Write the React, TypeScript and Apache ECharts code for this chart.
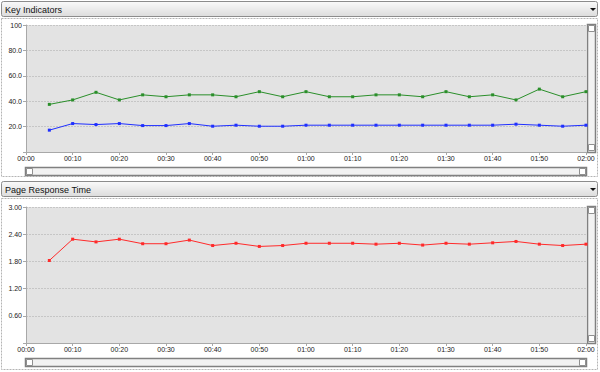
import React, { useEffect, useRef } from "react";
import * as echarts from "echarts";

// Time stamps (every 5 minutes)
const times = [
  "00:05", "00:10", "00:15", "00:20", "00:25", "00:30", "00:35", "00:40",
  "00:45", "00:50", "00:55", "01:00", "01:05", "01:10", "01:15", "01:20",
  "01:25", "01:30", "01:35", "01:40", "01:45", "01:50", "01:55", "02:00",
];

// Key Indicators
const greenSeries = [
  37.5, 41, 47, 41, 45, 43.5, 45, 45, 43.5, 47.5, 43.5, 47.5,
  43.5, 43.5, 45, 45, 43.5, 47.5, 43.5, 45, 41, 49.5, 43.5, 47.5,
];
const blueSeries = [
  17.2, 22.4, 21.6, 22.4, 20.8, 20.8, 22.4, 20.3, 21.1, 20.3, 20.3, 21.1,
  21.1, 21.1, 21.1, 21.1, 21.1, 21.1, 21.1, 21.1, 21.9, 21.1, 20.3, 21.1,
];

// Page Response Time
const redSeries = [
  1.82, 2.29, 2.23, 2.29, 2.19, 2.19, 2.27, 2.15, 2.2, 2.13, 2.15, 2.2,
  2.2, 2.2, 2.18, 2.2, 2.16, 2.2, 2.18, 2.21, 2.24, 2.18, 2.15, 2.18,
];

const panelTitles = ["Key Indicators", "Page Response Time"];

const toMin = (t: string) => {
  const [h, m] = t.split(":").map(Number);
  return h * 60 + m;
};
const fmtTime = (v: number) => {
  const h = Math.floor(v / 60);
  const m = v % 60;
  return String(h).padStart(2, "0") + ":" + String(m).padStart(2, "0");
};
const pairs = (vals: number[]) => times.map((t, i) => [toMin(t), vals[i]]);

const FONT = "Liberation Sans";
const TITLE_FONT = '"Liberation Sans", sans-serif';

export default function App() {
  const ref = useRef<HTMLDivElement>(null);
  useEffect(() => {
    if (!ref.current) return;
    const chart = echarts.init(ref.current, undefined, { renderer: "svg" });

    const xAxisBase = (gridIndex: number) => ({
      type: "value" as const,
      gridIndex,
      min: 0,
      max: 120,
      interval: 10,
      axisLine: { show: true, lineStyle: { color: "#a8a8a8", width: 1 } },
      axisTick: { show: true, length: 3, lineStyle: { color: "#a8a8a8" } },
      axisLabel: {
        formatter: (v: number) => fmtTime(v),
        fontSize: 7,
        fontFamily: FONT,
        color: "#222",
        margin: 3,
      },
      splitLine: { show: false },
    });

    const yAxisBase = (gridIndex: number, max: number, interval: number, fmt: (v: number) => string) => ({
      type: "value" as const,
      gridIndex,
      min: 0,
      max,
      interval,
      axisLine: { show: true, lineStyle: { color: "#a8a8a8", width: 1 } },
      axisTick: { show: true, length: 3, lineStyle: { color: "#a8a8a8" } },
      axisLabel: {
        formatter: fmt,
        fontSize: 7,
        fontFamily: FONT,
        color: "#222",
        margin: 4,
      },
      splitLine: { show: true, lineStyle: { color: "#c6c6c6", type: [2, 1] as any, width: 1 } },
    });

    const grad = new echarts.graphic.LinearGradient(0, 0, 0, 1, [
      { offset: 0, color: "#fafafa" },
      { offset: 1, color: "#dcdcdc" },
    ]);

    const panel = (y0: number, h: number, title: string, plotTop: number, plotBottom: number) => [
      // header bar
      {
        type: "rect",
        shape: { x: 1.5, y: y0 + 0.5, width: 596, height: 15, r: 2 },
        style: { fill: grad, stroke: "#8c8c8c", lineWidth: 1 },
      },
      {
        type: "text",
        x: 5,
        y: y0 + 8.5,
        style: { text: title, font: `9px ${TITLE_FONT}`, fill: "#111", verticalAlign: "middle" },
      },
      {
        type: "polygon",
        shape: { points: [[590, y0 + 7], [596, y0 + 7], [593, y0 + 10]] },
        style: { fill: "#111" },
      },
      // dashed border of chart body
      {
        type: "rect",
        shape: { x: 1.5, y: y0 + 17.5, width: 596, height: h },
        style: { fill: "none", stroke: "#b4b4b4", lineWidth: 1, lineDash: [2, 1] },
      },
      // vertical scrollbar
      {
        type: "rect",
        shape: { x: 587.5, y: plotTop - 0.5, width: 8, height: plotBottom - plotTop + 1 },
        style: { fill: "#f2f2f2", stroke: "#808080", lineWidth: 1.5 },
      },
      {
        type: "rect",
        shape: { x: 588.5, y: plotTop + 0.5, width: 6, height: 6 },
        style: { fill: "#ffffff", stroke: "#909090", lineWidth: 1 },
      },
      {
        type: "rect",
        shape: { x: 588.5, y: plotBottom - 7.5, width: 6, height: 6 },
        style: { fill: "#ffffff", stroke: "#909090", lineWidth: 1 },
      },
      // horizontal scrollbar
      {
        type: "rect",
        shape: { x: 25.5, y: plotBottom + 15.5, width: 561, height: 8 },
        style: { fill: "#f2f2f2", stroke: "#808080", lineWidth: 1.5 },
      },
      {
        type: "rect",
        shape: { x: 26.5, y: plotBottom + 16.5, width: 6, height: 6 },
        style: { fill: "#ffffff", stroke: "#909090", lineWidth: 1 },
      },
      {
        type: "rect",
        shape: { x: 579.5, y: plotBottom + 16.5, width: 6, height: 6 },
        style: { fill: "#ffffff", stroke: "#909090", lineWidth: 1 },
      },
    ];

    const lineSeries = (name: string, data: number[], color: string, idx: number) => ({
      name,
      type: "line" as const,
      xAxisIndex: idx,
      yAxisIndex: idx,
      data: pairs(data),
      symbol: "rect",
      symbolSize: 3,
      itemStyle: { color },
      lineStyle: { color, width: 1 },
    });

    chart.setOption({
      animation: false,
      backgroundColor: "#ffffff",
      grid: [
        { left: 26, right: 14, top: 25, height: 127, show: true, backgroundColor: "#e3e3e3", borderWidth: 0 },
        { left: 26, right: 14, top: 207, height: 136, show: true, backgroundColor: "#e3e3e3", borderWidth: 0 },
      ],
      xAxis: [xAxisBase(0), xAxisBase(1)],
      yAxis: [
        yAxisBase(0, 100, 20, (v: number) => (v === 0 ? "" : v === 100 ? "100" : v.toFixed(1))),
        yAxisBase(1, 3, 0.6, (v: number) => (v === 0 ? "" : v.toFixed(2))),
      ],
      series: [
        lineSeries("Green", greenSeries, "#2a8f2a", 0),
        lineSeries("Blue", blueSeries, "#1f2fff", 0),
        lineSeries("Red", redSeries, "#ff2a2a", 1),
      ],
      graphic: [
        ...panel(1, 158, panelTitles[0], 25, 152),
        ...panel(181, 171, panelTitles[1], 207, 343),
      ],
    });
    return () => chart.dispose();
  }, []);
  return (
    <div
      ref={ref}
      style={{ position: "fixed", left: 0, top: 0, width: 600, height: 372 }}
    />
  );
}
